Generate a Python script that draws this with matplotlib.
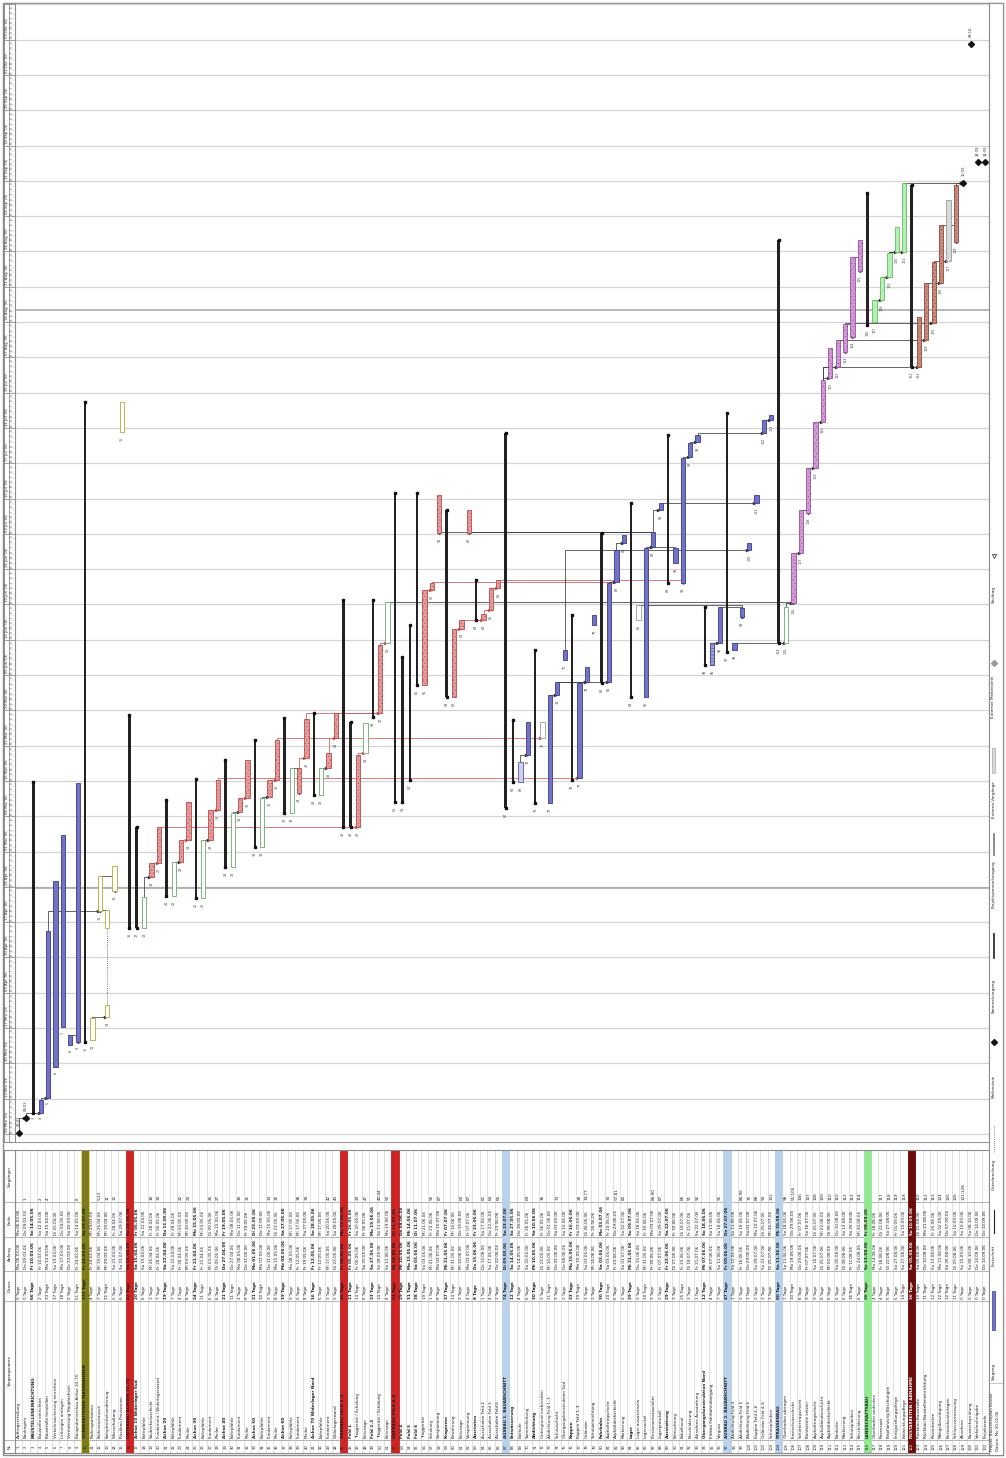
import matplotlib
matplotlib.use("Agg")
import matplotlib.pyplot as plt
from matplotlib.patches import Rectangle
import numpy as np
import datetime as dt

plt.rcParams['font.family'] = ['DejaVu Sans']
plt.rcParams['hatch.linewidth'] = 0.3

W, H = 1006, 1458

# ---------------------------------------------------------------- data
task_names = [
    "Auftragserteilung", "Baubeginn", "BAUSTELLENEINRICHTUNG", "Baustelle einrichten",
    "Baustraße herstellen", "Verkehrssicherung einrichten", "Leitungen umlegen",
    "Vermessung Hauptachsen", "Baugrubenverbau Achse 10–70", "VORBEREITENDE MASSNAHMEN",
    "Rodungsarbeiten", "Bodenaustausch", "Kampfmittelsondierung", "Wasserhaltung",
    "Rückbau Provisorien", "UNTERBAU ACHSEN 10–70", "Achse 10 Widerlager Süd", "Bohrpfähle",
    "Sauberkeitsschicht", "Fundament / Widerlagerwand", "Achse 20", "Bohrpfähle", "Fundament",
    "Pfeiler", "Achse 30", "Bohrpfähle", "Fundament", "Pfeiler", "Achse 40", "Bohrpfähle",
    "Fundament", "Pfeiler", "Achse 50", "Bohrpfähle", "Fundament", "Pfeiler", "Achse 60",
    "Bohrpfähle", "Fundament", "Pfeiler", "Achse 70 Widerlager Nord", "Bohrpfähle",
    "Fundament", "Widerlagerwand", "ÜBERBAU FELD 1–3", "Feld 1", "Traggerüst / Schalung",
    "Betonage", "Feld 2–3", "Traggerüst / Schalung", "Betonage", "ÜBERBAU FELD 4–6",
    "Feld 4", "Feld 5", "Feld 6", "Traggerüst", "Schalung", "Vorspannung", "Kragarme",
    "Bewehrung", "Betonage", "Vorspannung", "Ausrüsten", "Ausschalen Feld 4",
    "Ausschalen Feld 5", "Ausschalen Feld 6", "AUSBAU 1. BAUABSCHNITT", "Entwässerung",
    "Einläufe", "Sammelleitung", "Abdichtung", "Untergrund vorbereiten",
    "Abdichtung Feld 1–3", "Schutzschicht", "Übergangskonstruktion Süd", "Kappen",
    "Kappen Feld 1–3", "Geländer", "Schutzeinrichtung", "Fahrbahn", "Asphalttragschicht",
    "Asphaltdeckschicht", "Markierung", "Lager", "Lager auswechseln", "Lagersockel",
    "Pressenansatzpunkte", "Lagerprotokoll", "Ausstattung", "Beleuchtung", "Kabelkanal",
    "Beschilderung", "Abnahme Ausstattung", "Übergangskonstruktion Nord",
    "Einbau Fahrbahnübergang", "Verguss", "AUSBAU 2. BAUABSCHNITT", "Abdichtung Feld 4",
    "Abdichtung Feld 5", "Abdichtung Feld 6", "Kappen Feld 4–6", "Geländer Feld 4–6",
    "Schutzplanken", "STRASSENBAU", "Oberboden abtragen", "Frostschutzschicht",
    "Schottertragschicht", "Bordsteine setzen", "Asphalttragschicht", "Asphaltbinderschicht",
    "Asphaltdeckschicht", "Bankette", "Markierung", "Schutzplanken", "Beschilderung",
    "LANDSCHAFTSBAU", "Oberboden andecken", "Rasensaat", "Bepflanzung Böschungen",
    "Fertigstellungspflege", "Entwicklungspflege", "RESTARBEITEN / ABNAHME",
    "Rückbau Baustraße", "Rückbau Baustelleneinrichtung", "Restarbeiten",
    "Mängelbeseitigung", "Bestandsunterlagen", "Schlussvermessung", "Abnahme",
    "Bauwerksprüfung", "Verkehrsfreigabe", "Projektende",
]

task_kinds = [
    "ms", "ms", "sum", "blue", "blue", "blue", "blue", "blue", "blue", "sum",
    "yel", "yel", "yel", "yel", "yel", "sum", "sum", "gout", "red", "red",
    "sum", "gout", "red", "red", "sum", "gout", "red", "red", "sum", "gout",
    "red", "red", "sum", "gout", "red", "red", "sum", "gout", "red", "red",
    "sum", "gout", "red", "red", "sum", "sum", "red", "gout", "sum", "red",
    "gout", "sum", "sum", "sum", "sum", "red", "red", "red", "sum", "red",
    "red", "red", "sum", "red", "red", "red", "sum", "sum", "bluel", "blue",
    "sum", "pale", "blue", "blue", "blue", "sum", "blue", "blue", "blue", "sum",
    "blue", "blue", "blue", "sum", "pale", "blue", "blue", "blue", "sum", "blue",
    "blue", "blue", "blue", "sum", "blueh", "blue", "sum", "blue", "blue", "blue",
    "blue", "blue", "blue", "sum", "gout", "purple", "purple", "purple", "purple", "purple",
    "purple", "purple", "purple", "purple", "purple", "sum", "green", "green", "green", "green",
    "green", "sum", "brown", "brown", "brown", "brown", "gray", "brown", "ms", "ms",
    "ms", "ms",
]

# start / finish in project days
task_start = [
    1, 4, 5, 5, 8, 14, 22, 18.4, 19, 19,
    19.4, 45, 24, 49, 140, 41.6, 41.6, 41.6, 51.8, 54.5,
    48, 48, 54.7, 59, 47.6, 47.6, 59, 65, 53.7, 53.7,
    64.6, 67.4, 57.7, 57.7, 67.6, 71, 64.4, 64.4, 68.4, 75.4,
    68, 68, 73.4, 79.3, 61.7, 61.7, 61.7, 76.3, 83.5, 84.3,
    98.2, 66.6, 66.6, 71, 89.8, 89.8, 108.7, 120, 87.4, 87.4,
    101, 120, 102.7, 102.7, 104.7, 109, 65.4, 70.6, 70.6, 76,
    66.4, 79.3, 66.4, 87.8, 94.8, 71, 71.4, 90.4, 101.7, 90.2,
    90.4, 110.2, 118, 87.4, 102.7, 87.4, 117.2, 124.5, 110, 114,
    110, 135, 138, 93.8, 93.8, 98.2, 96.4, 96.8, 103.3, 116.6,
    126, 139.8, 142.4, 98.2, 98.2, 106, 116, 124, 132.9, 142,
    150.7, 152.9, 155.9, 158.8, 172, 161.2, 161.8, 166.2, 170.7, 175.7,
    175.7, 152.9, 152.9, 158.2, 161.6, 169.5, 174, 177.7, 189.4, 217,
    193.5, 193.5,
]
task_end = [
    1, 4, 70.6, 7.5, 41, 51, 60, 20.4, 70.4, 146,
    23.8, 52, 45.2, 54, 146, 83.9, 61.7, 47.8, 54.5, 61.7,
    67, 54.7, 59, 66.6, 71.2, 59, 65, 71, 75, 64.4,
    67.4, 75, 79, 67.4, 71, 79, 83.3, 73.4, 73.4, 83,
    84.3, 73.4, 76.3, 84.3, 106.7, 82.5, 76, 82.3, 106.7, 97.8,
    106.3, 128, 95.4, 101.7, 128, 108.7, 110, 127.5, 124.5, 101,
    102.7, 124.5, 110.6, 104, 109, 110.6, 139.8, 82.9, 74.6, 82.5,
    96.8, 82.5, 87.8, 90.4, 96.8, 103.7, 90.2, 93.4, 103.7, 120,
    110, 116.6, 119.6, 126, 105.7, 117, 120.2, 126, 139.4, 117,
    134.8, 137.8, 139.4, 105.3, 98.2, 105.3, 143.8, 98.2, 105.1, 118,
    127.5, 142.4, 143.4, 178, 105.3, 116, 124.5, 132.9, 142, 150.3,
    156.7, 158.2, 161.4, 174.7, 178, 187.4, 166.2, 170.7, 175.5, 180.6,
    189.4, 189, 162.8, 169.5, 173.7, 181, 186, 189, 189.4, 217,
    193.5, 193.5,
]

split_row = 12
split_gap = (26.4, 41.6)

band_rows = [9, 15, 44, 51, 66, 96, 103, 115, 121]
band_colors = ["#7e7a1e", "#cf2424", "#cf2424", "#cf2424", "#bad1ea",
               "#bad1ea", "#bad1ea", "#93e993", "#6b0c0c"]

links = [
    (0, 1), (1, 3), (3, 4), (4, 11), (7, 8), (10, 12), (12, 11), (11, 13),
    (17, 18), (18, 19), (21, 22), (22, 23), (25, 26), (26, 27), (29, 30), (30, 31),
    (33, 34), (34, 35), (37, 38), (38, 39), (41, 42), (42, 43),
    (19, 46), (27, 76), (35, 71), (39, 49), (43, 49), (46, 47), (49, 50), (68, 69),
    (55, 56), (59, 60), (60, 63), (63, 64), (64, 65), (56, 81), (65, 90), (86, 57),
    (86, 61), (72, 73), (73, 77), (76, 77), (73, 80), (80, 81), (81, 82), (85, 86),
    (86, 87), (89, 86), (90, 91), (91, 92), (94, 95), (97, 104), (95, 98), (84, 98),
    (50, 105), (104, 105), (105, 106), (106, 107), (107, 108), (108, 109), (109, 110),
    (109, 111), (111, 112), (112, 113), (113, 114), (109, 122), (111, 123), (112, 124),
    (116, 117), (117, 118), (118, 119), (118, 120), (123, 125), (124, 126),
    (125, 127), (127, 128), (120, 128), (92, 101), (101, 102), (74, 99), (87, 100),
]

project_start = dt.date(2006, 3, 6)
table_columns = ["Nr.", "Vorgangsname", "Dauer", "Anfang", "Ende", "Vorgänger"]
legend_labels = ["Stichtag", "Externer Meilenstein", "Externe Vorgänge",
                 "Projektsammelvorgang", "Sammelvorgang", "Meilenstein",
                 "Unterbrechung", "Fortschritt", "Vorgang"]
project_info = ["Projekt: Bauzeitenplan Brücke", "Datum: Mo 20.02.06"]

# ---------------------------------------------------------------- helpers
n_rows = len(task_names)
WD = ["Mo", "Di", "Mi", "Do", "Fr", "Sa", "So"]
MON = ["Jan", "Feb", "Mrz", "Apr", "Mai", "Jun", "Jul", "Aug", "Sep", "Okt", "Nov", "Dez"]


def day_to_date(d):
    return project_start + dt.timedelta(days=int(np.floor(d - 0.8)))


def fmt_date(d):
    x = day_to_date(d)
    return f"{WD[x.weekday()]} {x:%d.%m.%y}"


fig = plt.figure(figsize=(W / 100, H / 100), dpi=100)


def px_axes(x0, y0, x1, y1, z=1):
    a = fig.add_axes([x0 / W, 1 - y1 / H, (x1 - x0) / W, (y1 - y0) / H], zorder=z)
    a.set_xticks([])
    a.set_yticks([])
    return a


# page frame
axbg = px_axes(0, 0, W, H, z=0)
axbg.set_xlim(0, W)
axbg.set_ylim(H, 0)
axbg.axis("off")
axbg.add_patch(Rectangle((3, 3), 1000, 1452, fill=False, ec="#8c8c8c", lw=1.0))

Y0, Y1 = -0.79, 225.07

# ---------------------------------------------------------------- gantt
axg = px_axes(15, 3, 989, 1142)
axg.set_xlim(-0.5, n_rows - 0.5)
axg.set_ylim(Y0, Y1)
for s in axg.spines.values():
    s.set_color("#9a9a9a")
    s.set_linewidth(0.8)
for yv in np.arange(0.8, Y1, 7):
    axg.axhline(yv, color="#d4d4d4", lw=0.9, zorder=0)
for yv in [49.6, 164.2]:
    axg.axhline(yv, color="#a4a4a4", lw=1.1, zorder=0)

styles = {
    "blue": dict(fc="#7373c6", ec="#3a3a8c", hatch=None),
    "bluel": dict(fc="#cdcdf0", ec="#5a5aa0", hatch=None),
    "blueh": dict(fc="#a0a0dc", ec="#3a3a8c", hatch="-----"),
    "red": dict(fc="#e59c9c", ec="#b44c4c", hatch="....."),
    "gout": dict(fc="#ffffff", ec="#6aa86a", hatch=None),
    "yel": dict(fc="#fffff2", ec="#a8a850", hatch=None),
    "pale": dict(fc="#ffffff", ec="#9a9a9a", hatch=None),
    "purple": dict(fc="#d29bd8", ec="#96509e", hatch="....."),
    "green": dict(fc="#b6eeb6", ec="#5fbf5f", hatch=None),
    "brown": dict(fc="#ca8c7e", ec="#8e4a3c", hatch="....."),
    "gray": dict(fc="#d8d8d8", ec="#9a9a9a", hatch=None),
}

# links first (below bars)
for p, s in links:
    ep, ss = task_end[p], task_start[s]
    col = "#c25c5c" if task_kinds[p] == "red" else "#3c3c3c"
    if ss >= ep:
        xs, ys = [p, p, s - 0.3], [ep, ss, ss]
    else:
        xs, ys = [p, s, s], [ep, ep, ss]
    axg.plot(xs, ys, color=col, lw=0.55, zorder=2)
    axg.plot(xs[-1], ys[-1], marker=">" if ss >= ep else "v", ms=1.6, color=col, zorder=2)

for kind, st in styles.items():
    sel = [i for i in range(n_rows) if task_kinds[i] == kind and i != split_row]
    if not sel:
        continue
    axg.bar(sel, [task_end[i] - task_start[i] for i in sel],
            bottom=[task_start[i] for i in sel], width=0.58,
            color=st["fc"], edgecolor=st["ec"], linewidth=0.6, hatch=st["hatch"], zorder=3)

# split task
st = styles[task_kinds[split_row]]
for b, e in [(task_start[split_row], split_gap[0]), (split_gap[1], task_end[split_row])]:
    axg.bar([split_row], [e - b], bottom=[b], width=0.58, color=st["fc"],
            edgecolor=st["ec"], linewidth=0.6, zorder=3)
axg.plot([split_row, split_row], split_gap, color="#555555", lw=0.6, ls=(0, (1, 1.5)), zorder=3)

# summaries
sel = [i for i in range(n_rows) if task_kinds[i] == "sum"]
axg.bar(sel, [task_end[i] - task_start[i] for i in sel], bottom=[task_start[i] for i in sel],
        width=0.34, color="#222222", zorder=4)
axg.plot(sel, [task_start[i] for i in sel], ls="none", marker="s", ms=2.0, color="#111111", zorder=5)
axg.plot(sel, [task_end[i] for i in sel], ls="none", marker="s", ms=2.0, color="#111111", zorder=5)

# milestones
sel = [i for i in range(n_rows) if task_kinds[i] == "ms"]
axg.plot(sel, [task_start[i] for i in sel], ls="none", marker="D", ms=3.0, color="#111111", zorder=6)
for i in sel:
    x = day_to_date(task_start[i])
    axg.text(i, task_start[i] + 1.3, f"{x:%d.%m.}", rotation=90, rotation_mode="anchor",
             ha="left", va="center", fontsize=2.6, color="#333333", zorder=6)

# labels below bars
for i in range(n_rows):
    if task_kinds[i] == "ms":
        continue
    axg.text(i, task_start[i] - 0.9, str(i + 1), rotation=90, rotation_mode="anchor",
             ha="right", va="center", fontsize=2.4, color="#444444", zorder=6)

# ---------------------------------------------------------------- timescale header
axh = px_axes(4, 3, 15, 1142)
axh.set_xlim(0, 11)
axh.set_ylim(Y0, Y1)
for s in axh.spines.values():
    s.set_color("#8c8c8c")
    s.set_linewidth(0.7)
axh.axvline(5, color="#8c8c8c", lw=0.6)
for k, yv in enumerate(np.arange(0.8, Y1, 7)):
    axh.axhline(yv, color="#8c8c8c", lw=0.6)
    x = project_start + dt.timedelta(days=7 * k)
    if yv + 6.5 < Y1:
        axh.text(2.6, yv + 0.4, f"{x.day:02d} {MON[x.month - 1]} '{x:%y}", rotation=90,
                 rotation_mode="anchor", ha="left", va="center", fontsize=2.7, color="#333333")
    for j in range(7):
        if yv + j + 1 > Y1:
            break
        axh.text(8.0, yv + j + 0.5, WD[j][0], rotation=90, ha="center", va="center",
                 fontsize=2.0, color="#555555")
        axh.plot([5, 11], [yv + j, yv + j], color="#bdbdbd", lw=0.3)

# ---------------------------------------------------------------- table
edges = [0, 13, 152, 182, 216, 251, 303]
axt = px_axes(15, 1150, 989, 1453)
axt.set_xlim(-0.5, n_rows - 0.5)
axt.set_ylim(0, 303)
for s in axt.spines.values():
    s.set_color("#8c8c8c")
    s.set_linewidth(0.8)
for i in range(n_rows):
    axt.axvline(i + 0.5, color="#cfcfcf", lw=0.45, zorder=1)
for e in edges[1:-1]:
    axt.axhline(e, color="#a8a8a8", lw=0.6, zorder=1)
for r, c in zip(band_rows, band_colors):
    axt.add_patch(Rectangle((r - 0.5, 0), 1, 303, fc=c,
                            ec="#e6e66a" if r == 9 else c, lw=0.6, zorder=2))

preds = {i: [] for i in range(n_rows)}
for p, s in links:
    preds[s].append(p + 1)

for i in range(n_rows):
    bold = task_kinds[i] == "sum"
    col = "#ffffff" if (i in band_rows and band_colors[band_rows.index(i)] == "#6b0c0c") else "#1e1e1e"
    fw = "bold" if bold else "normal"
    dur = 0 if task_kinds[i] == "ms" else round(task_end[i] - task_start[i])
    vals = [str(i + 1), task_names[i], f"{dur} Tage", fmt_date(task_start[i]),
            fmt_date(task_end[i]), ";".join(str(v) for v in sorted(preds[i]))]
    for c, v in enumerate(vals):
        if c == 0:
            axt.text(i, (edges[0] + edges[1]) / 2, v, rotation=90, ha="center", va="center",
                     fontsize=2.7, color=col, zorder=3)
        else:
            axt.text(i, edges[c] + 2, v, rotation=90, rotation_mode="anchor", ha="left",
                     va="center", fontsize=3.0, color=col, fontweight=fw, zorder=3)

axth = px_axes(4, 1150, 15, 1453)
axth.set_xlim(0, 1)
axth.set_ylim(0, 303)
for s in axth.spines.values():
    s.set_color("#8c8c8c")
    s.set_linewidth(0.8)
for e in edges[1:-1]:
    axth.axhline(e, color="#a8a8a8", lw=0.6)
for c, name in enumerate(table_columns):
    axth.text(0.5, (edges[c] + edges[c + 1]) / 2, name, rotation=90, ha="center",
              va="center", fontsize=3.0, color="#222222")

# ---------------------------------------------------------------- legend strip
axl = px_axes(989, 3, 1003, 1455)
axl.set_xlim(0, 14)
axl.set_ylim(1452, 0)
for s in axl.spines.values():
    s.set_color("#8c8c8c")
    s.set_linewidth(0.8)
leg_label_y = [600, 715, 815, 905, 1010, 1095, 1187, 1263, 1377]
leg_sample = [(545, 560, "stich"), (652, 668, "xms"), (745, 770, "xbar"),
              (830, 852, "psum"), (930, 955, "sum"), (1032, 1046, "ms"),
              (1123, 1150, "dot"), (1207, 1230, "prog"), (1288, 1327, "bar")]
for lab, ly, (s0, s1, kind) in zip(legend_labels, leg_label_y, leg_sample):
    axl.text(4.5, ly, lab, rotation=90, rotation_mode="anchor", ha="left", va="center",
             fontsize=3.0, color="#222222")
    if kind == "bar":
        axl.add_patch(Rectangle((3.2, s0), 2.6, s1 - s0, fc="#7373c6", ec="#3a3a8c", lw=0.5))
    elif kind == "sum":
        axl.add_patch(Rectangle((3.8, s0), 1.4, s1 - s0, fc="#222222", ec="#222222", lw=0.5))
    elif kind == "psum":
        axl.add_patch(Rectangle((3.6, s0), 1.8, s1 - s0, fc="#9a9a9a", ec="#777777", lw=0.5))
    elif kind == "xbar":
        axl.add_patch(Rectangle((3.4, s0), 2.2, s1 - s0, fc="#d8d8d8", ec="#aaaaaa", lw=0.5))
    elif kind == "prog":
        axl.plot([4.5, 4.5], [s0, s1], color="#222222", lw=0.8)
    elif kind == "dot":
        axl.plot([4.5, 4.5], [s0, s1], color="#555555", lw=0.6, ls=(0, (1, 1.5)))
    elif kind in ("ms", "xms"):
        axl.plot(4.5, (s0 + s1) / 2, marker="D", ms=3,
                 color="#111111" if kind == "ms" else "#9a9a9a")
    elif kind == "stich":
        axl.plot(4.5, (s0 + s1) / 2, marker="v", ms=3, color="#222222", mfc="none", mew=0.5)
axl.axhline(1380, color="#b0b0b0", lw=0.5)
for k, t in enumerate(project_info):
    axl.text(3.0 + 6.5 * k, 1448, t, rotation=90, rotation_mode="anchor", ha="left",
             va="center", fontsize=2.8, color="#222222")

fig.savefig("out.png", dpi=100)
